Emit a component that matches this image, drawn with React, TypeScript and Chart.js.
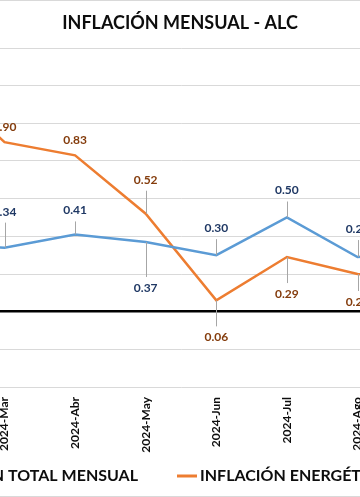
import React, { useEffect, useRef } from "react";
import { Chart, registerables } from "chart.js";

Chart.register(...registerables);

// ---- data ----
const categories = ["2024-Feb", "2024-Mar", "2024-Abr", "2024-May", "2024-Jun", "2024-Jul", "2024-Ago", "2024-Sep"];
const totalMensual = [0.36, 0.34, 0.41, 0.37, 0.3, 0.5, 0.29, 0.31];
const energeticaMensual = [1.25, 0.9, 0.83, 0.52, 0.06, 0.29, 0.2, 0.17];
const yMin = -0.4;
const yMax = 1.4;
const yStep = 0.2;
const seriesNames = ["INFLACIÓN TOTAL MENSUAL", "INFLACIÓN ENERGÉTICA MENSUAL"];
const chartTitle = "INFLACIÓN MENSUAL - ALC";

// ---- label placement (styling: vertical offsets of data labels, px) ----
const totalLabelOffsets = [-28, -36, -24, 46, -27, -27, -28, -28];
const energLabelOffsets = [-15, -15, -15, -34, 37, 37, 28, 28];

// ---- layout ----
const VIEW_W = 360;
const VIEW_H = 497;
const CANVAS_W = 640;
const SHIFT = 140; // canvas starts 140px left of the visible area
const FONT = "Lato, 'Open Sans', 'DejaVu Sans', sans-serif";
const BLUE = "#5b9bd5";
const ORANGE = "#ed7d31";
const BLUE_LABEL = "#1f3864";
const ORANGE_LABEL = "#843c0c";
const TEXT = "#0d0d0d";

const overlayPlugin = {
  id: "overlay",
  afterDatasetsDraw(chart: any) {
    const ctx = chart.ctx;
    ctx.save();
    const offsetsList = [totalLabelOffsets, energLabelOffsets];
    const colors = [BLUE_LABEL, ORANGE_LABEL];
    chart.data.datasets.forEach((ds: any, di: number) => {
      const meta = chart.getDatasetMeta(di);
      meta.data.forEach((pt: any, j: number) => {
        const v = ds.data[j];
        if (v === null || v === undefined) return;
        const off = offsetsList[di][j];
        const ly = pt.y + off;
        if (Math.abs(off) > 18) {
          const sign = off < 0 ? -1 : 1;
          ctx.beginPath();
          ctx.strokeStyle = "#a6a6a6";
          ctx.lineWidth = 1;
          ctx.moveTo(Math.round(pt.x) + 0.5, pt.y);
          ctx.lineTo(Math.round(pt.x) + 0.5, ly - sign * 11);
          ctx.stroke();
        }
        ctx.fillStyle = colors[di];
        ctx.font = `bold 12px ${FONT}`;
        ctx.textAlign = "center";
        ctx.textBaseline = "middle";
        ctx.fillText(Number(v).toFixed(2), pt.x, ly);
      });
    });
    ctx.restore();
  },
  afterDraw(chart: any) {
    const ctx = chart.ctx;
    ctx.save();
    // outer border
    ctx.strokeStyle = "#d9d9d9";
    ctx.lineWidth = 1;
    ctx.strokeRect(0.5, 0.5, chart.width - 1, chart.height - 1);
    // title
    ctx.fillStyle = TEXT;
    ctx.font = `bold 18px ${FONT}`;
    ctx.textAlign = "center";
    ctx.textBaseline = "middle";
    ctx.fillText(chartTitle, SHIFT + 180, 23);
    // legend
    ctx.font = `bold 16px ${FONT}`;
    const ly = 476;
    const blueEnd = SHIFT + 138;
    const tw = ctx.measureText(seriesNames[0]).width;
    ctx.textAlign = "right";
    ctx.fillText(seriesNames[0], blueEnd, ly);
    ctx.lineWidth = 3;
    ctx.strokeStyle = BLUE;
    ctx.beginPath();
    ctx.moveTo(blueEnd - tw - 23, ly);
    ctx.lineTo(blueEnd - tw - 3, ly);
    ctx.stroke();
    const oStart = SHIFT + 177;
    ctx.strokeStyle = ORANGE;
    ctx.beginPath();
    ctx.moveTo(oStart, ly);
    ctx.lineTo(oStart + 20, ly);
    ctx.stroke();
    ctx.textAlign = "left";
    ctx.fillText(seriesNames[1], oStart + 23, ly);
    ctx.restore();
  },
};

export default function App() {
  const ref = useRef<HTMLCanvasElement | null>(null);

  useEffect(() => {
    if (!ref.current) return;
    const chart = new Chart(ref.current, {
      type: "line",
      data: {
        labels: categories,
        datasets: [
          {
            label: seriesNames[0],
            data: totalMensual,
            borderColor: BLUE,
            backgroundColor: BLUE,
            borderWidth: 2.5,
            pointRadius: 0,
            tension: 0,
            fill: false,
          },
          {
            label: seriesNames[1],
            data: energeticaMensual,
            borderColor: ORANGE,
            backgroundColor: ORANGE,
            borderWidth: 2.5,
            pointRadius: 0,
            tension: 0,
            fill: false,
          },
        ],
      },
      options: {
        responsive: false,
        animation: false,
        layout: { padding: { left: 38.6, right: 36.6, top: 48, bottom: 0 } },
        plugins: {
          legend: { display: false },
          title: { display: false },
          tooltip: { enabled: false },
        },
        scales: {
          x: {
            type: "category",
            offset: true,
            grid: { display: false, drawTicks: false },
            border: { display: false },
            ticks: {
              minRotation: 90,
              maxRotation: 90,
              autoSkip: false,
              padding: 10,
              color: TEXT,
              font: { family: FONT, size: 12, weight: "bold" },
            },
            afterFit(scale: any) {
              scale.height = 110;
            },
          },
          y: {
            min: yMin,
            max: yMax,
            ticks: { stepSize: yStep, display: false },
            grid: {
              drawTicks: false,
              color: (c: any) => (Math.abs(c.tick.value) < 1e-9 ? "#000000" : "#d9d9d9"),
              lineWidth: (c: any) => (Math.abs(c.tick.value) < 1e-9 ? 2.5 : 1),
            },
            border: { display: false },
            afterFit(scale: any) {
              scale.width = 0;
            },
          },
        },
      },
      plugins: [overlayPlugin],
    });
    return () => chart.destroy();
  }, []);

  return (
    <div
      style={{
        position: "fixed",
        left: 0,
        top: 0,
        width: VIEW_W,
        height: VIEW_H,
        overflow: "hidden",
        background: "#ffffff",
      }}
    >
      <canvas
        ref={ref}
        width={CANVAS_W}
        height={VIEW_H}
        style={{ position: "absolute", left: -SHIFT, top: 0, width: CANVAS_W, height: VIEW_H }}
      />
    </div>
  );
}
